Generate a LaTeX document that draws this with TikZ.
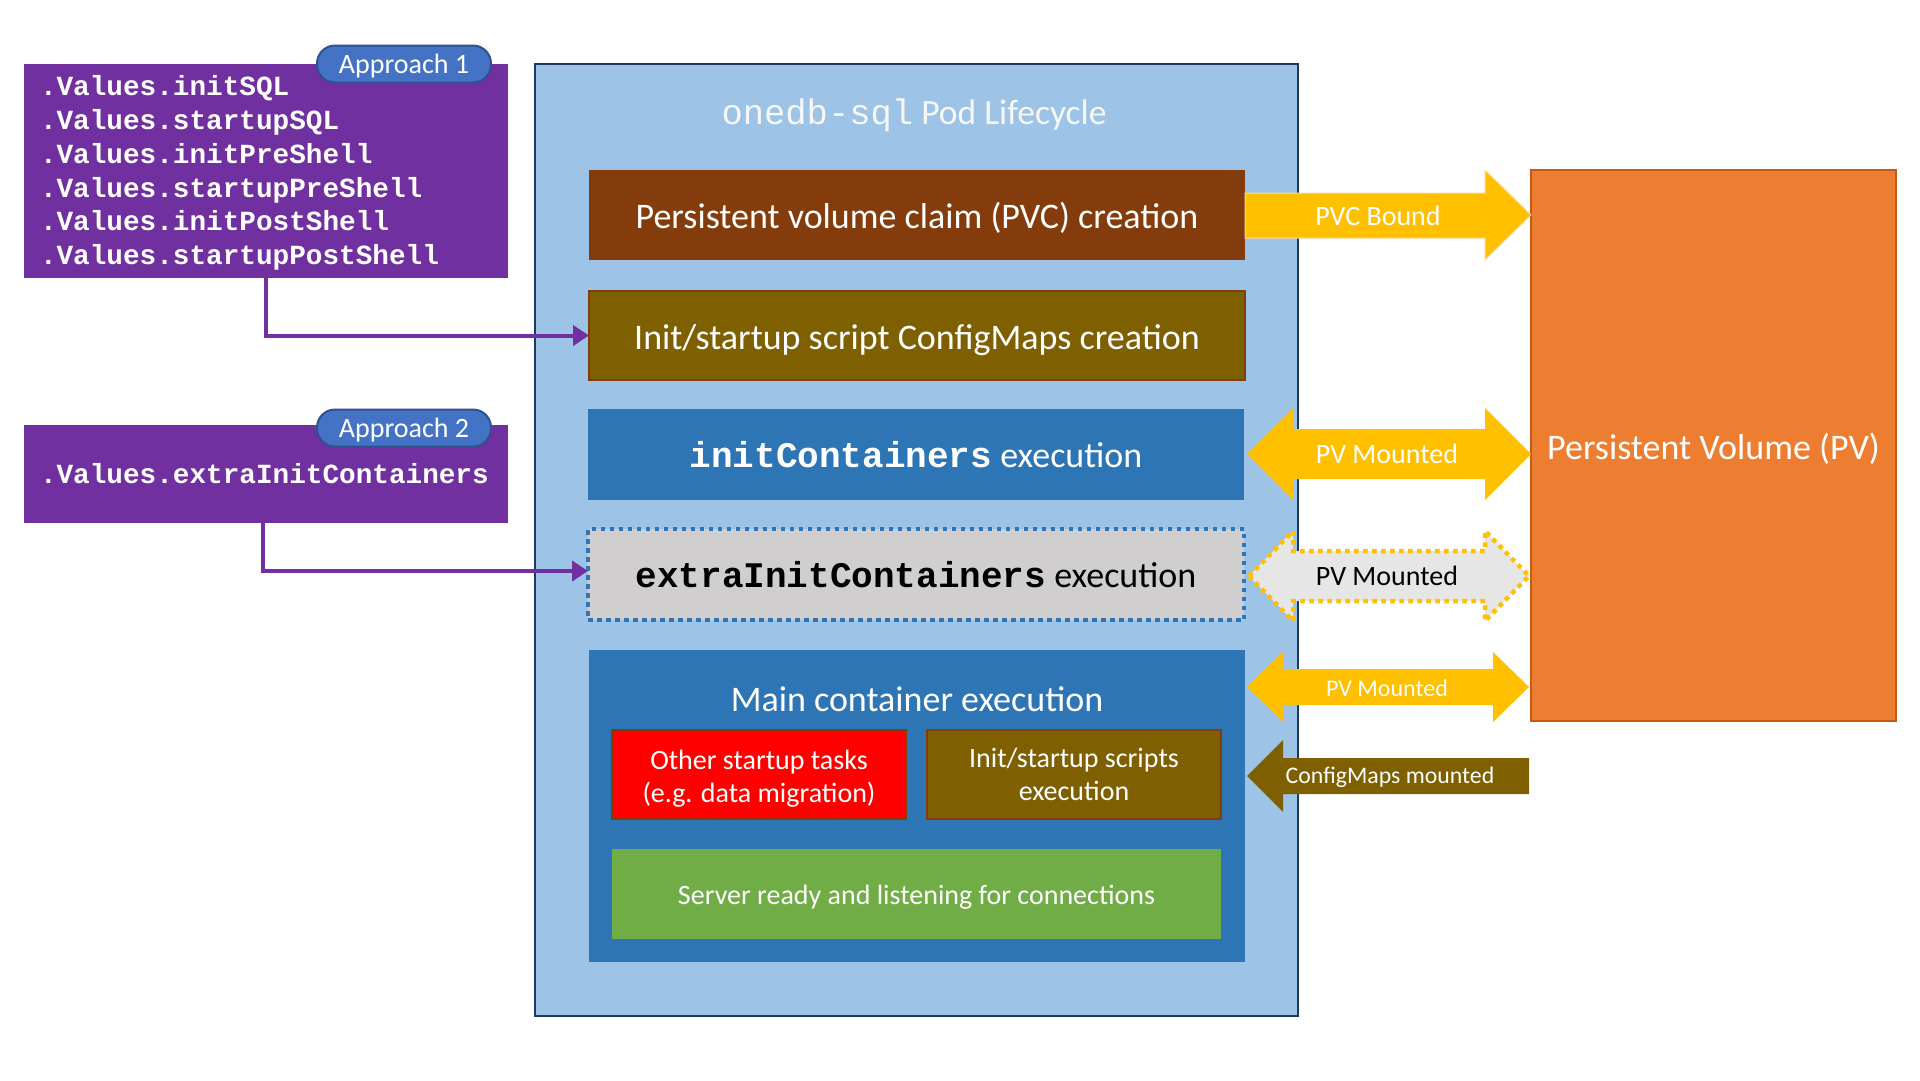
\documentclass[tikz,border=0pt]{standalone}
\usepackage{fontspec}
\setmainfont{Carlito}
\setmonofont{Liberation Mono}
\usetikzlibrary{arrows.meta}
\definecolor{purp}{HTML}{7030A0}
\definecolor{pillfill}{HTML}{4472C4}
\definecolor{pilldraw}{HTML}{2F528F}
\definecolor{podfill}{HTML}{9DC3E6}
\definecolor{podborder}{HTML}{1F3864}
\definecolor{pvcbrown}{HTML}{843C0C}
\definecolor{olive}{HTML}{7F6000}
\definecolor{midblue}{HTML}{2E75B6}
\definecolor{lgray}{HTML}{D0CECE}
\definecolor{lgray2}{HTML}{E7E6E6}
\definecolor{redbox}{HTML}{FF0000}
\definecolor{greenbox}{HTML}{70AD47}
\definecolor{pvorange}{HTML}{ED7D31}
\definecolor{pvborder}{HTML}{C55A11}
\definecolor{gold}{HTML}{FFC000}
\definecolor{titlecol}{HTML}{F7F7F7}
\newcommand{\fsz}[2]{\fontsize{#1}{#2}\selectfont}
\begin{document}
\begin{tikzpicture}[x=1pt,y=-1pt,
  box/.style={inner sep=0pt, outer sep=0pt, align=center, text=white},
  olbig/.style={text height=27pt, text depth=0pt},
  stagebox/.style={box, minimum width=656pt, font=\fsz{36}{43}},
  pbox/.style={box, fill=purp, minimum width=484pt, align=left, text width=452pt,
     font=\ttfamily\bfseries\fsz{27.7}{33.8}},
  pill/.style={box, text height=18.5pt, text depth=0pt, fill=pillfill, draw=pilldraw, line width=2pt, rounded corners=18pt,
     minimum width=174pt, minimum height=37pt, font=\fsz{28}{32}},
  purpline/.style={draw=purp, line width=4pt, -{Triangle[length=16pt,width=20pt]}},
  arrowlabel/.style={inner sep=0pt, text=white}
]
\useasboundingbox (0,0) rectangle (1920,1080);
\fill[white] (0,0) rectangle (1920,1080);

% left value boxes
\node[pbox, minimum height=214pt] (vals1) at (266,171) {\rule{0pt}{24pt}.Values.initSQL\\.Values.startupSQL\\.Values.initPreShell\\.Values.startupPreShell\\.Values.initPostShell\\.Values.startupPostShell};
\node[pill] (ap1) at (404,64) {Approach 1};
\node[pbox, minimum height=98pt] (vals2) at (266,474) {.Values.extraInitContainers};
\node[pill] (ap2) at (404,428) {Approach 2};

% pod
\node[box, draw=podborder, fill=podfill, line width=2pt, minimum width=763pt, minimum height=952pt] (pod) at (916.5,540) {};
\node[inner sep=0pt, text height=26.6pt, text depth=0pt, text=titlecol, font=\fsz{35.5}{42}] (title) at (914,111) {{\ttfamily onedb-sql} Pod Lifecycle};

\node[stagebox, olbig, fill=pvcbrown, minimum height=90pt] (pvc) at (917,215) {Persistent volume claim (PVC) creation};
\node[stagebox, olbig, fill=olive, draw=pvcbrown, line width=2pt, minimum height=89pt] (cfg) at (917,335.5) {Init/startup script ConfigMaps creation};
\node[stagebox, fill=midblue, minimum height=91pt] (init) at (916,454.5) {{\ttfamily\bfseries initContainers} execution};
\node[stagebox, fill=lgray, draw=midblue, line width=4.5pt, dash pattern=on 4.5pt off 4.5pt, minimum height=91pt, text=black] (extra) at (916,574.5) {{\ttfamily\bfseries extraInitContainers} execution};

\node[box, fill=midblue, minimum width=656pt, minimum height=312pt] (main) at (917,806) {};
\node[inner sep=0pt, text=white, font=\fsz{36}{43}] (maintitle) at (917,699) {Main container execution};
\node[box, fill=redbox, draw=pvcbrown, line width=2pt, minimum width=294pt, minimum height=89pt] (other) at (759,774.5) {};
\node[inner sep=0pt, align=center, text=white, font=\fsz{28}{33.5}] (othertext) at (759,778.5) {Other startup tasks\\(e.g. data migration)};
\node[box, fill=olive, draw=pvcbrown, line width=2pt, minimum width=294pt, minimum height=89pt, font=\fsz{28}{33.5}] (scripts) at (1074,774.5) {Init/startup scripts\\execution};
\node[box, text height=21pt, text depth=0pt, fill=greenbox, minimum width=609pt, minimum height=90pt, font=\fsz{28}{33}] (server) at (916.5,894) {Server ready and listening for connections};

% PV
\node[box, olbig, fill=pvorange, draw=pvborder, line width=2pt, minimum width=365pt, minimum height=551pt, font=\fsz{36}{43}] (pv) at (1713.5,445.5) {Persistent Volume (PV)};

% purple connectors
\draw[purpline] ([xshift=242pt]vals1.south west) |- (cfg.west);
\draw[purpline] ([xshift=239pt]vals2.south west) |- ([yshift=3.5pt]extra.west);

% block arrows
\fill[gold, draw=gold!60!pvorange!40!white, line width=1pt] (1245,193) -- (1485,193) -- (1485,170) -- (1531,215) -- (1485,260) -- (1485,238) -- (1245,238) -- cycle;
\node[arrowlabel, font=\fsz{28}{32}] (lblpvc) at (1378,216) {PVC Bound};

\fill[gold] (1247,454) -- (1293,408) -- (1293,429) -- (1485,429) -- (1485,408) -- (1531,454) -- (1485,500) -- (1485,479) -- (1293,479) -- (1293,500) -- cycle;
\node[arrowlabel, font=\fsz{28}{32}] (lblpv1) at (1387,454) {PV Mounted};

\draw[fill=lgray2, draw=gold, line width=4.5pt, dash pattern=on 4.5pt off 4.5pt] (1249,576) -- (1293,531) -- (1293,551) -- (1485,551) -- (1485,531) -- (1529,576) -- (1485,621) -- (1485,601) -- (1293,601) -- (1293,621) -- cycle;
\node[arrowlabel, text=black, font=\fsz{28}{32}] (lblpv2) at (1387,576) {PV Mounted};

\fill[gold] (1247,687) -- (1283,652) -- (1283,669) -- (1493,669) -- (1493,652) -- (1529,687) -- (1493,722) -- (1493,705) -- (1283,705) -- (1283,722) -- cycle;
\node[arrowlabel, font=\fsz{24}{28}] (lblpv3) at (1387,688) {PV Mounted};

\fill[olive] (1247,776) -- (1283,740) -- (1283,758) -- (1529,758) -- (1529,794) -- (1283,794) -- (1283,812) -- cycle;
\node[arrowlabel, font=\fsz{23.8}{28}] (lblcm) at (1390,777) {ConfigMaps mounted};
\end{tikzpicture}
\end{document}
